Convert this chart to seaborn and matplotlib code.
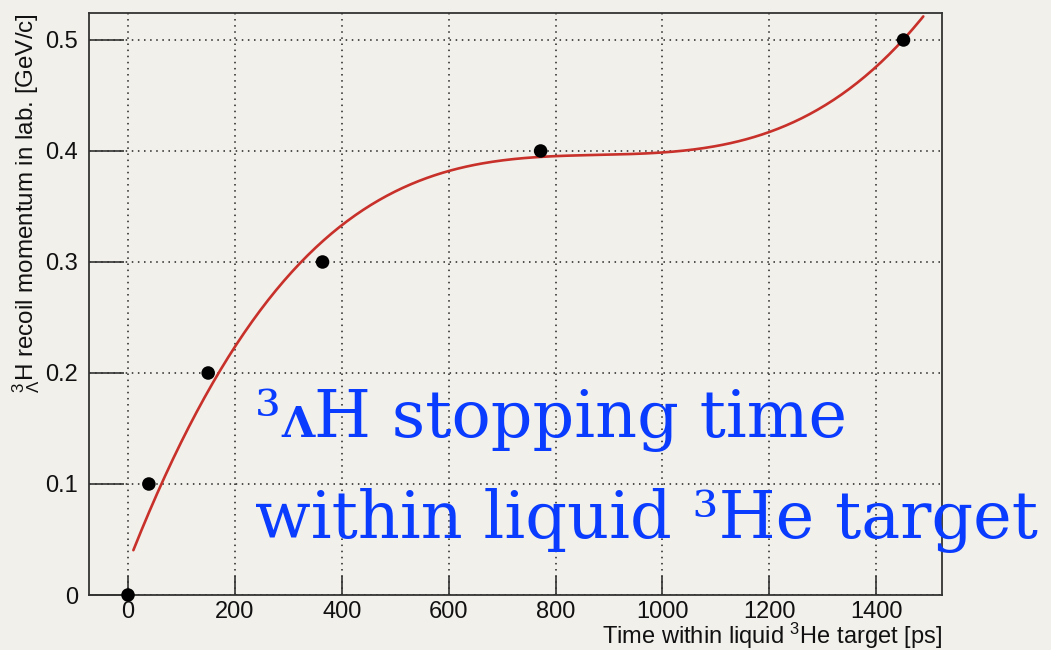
import numpy as np
import pandas as pd
import matplotlib
matplotlib.use("Agg")
import matplotlib.pyplot as plt
from matplotlib.ticker import MultipleLocator
from matplotlib.offsetbox import TextArea, HPacker, AnnotationBbox
import seaborn as sns

# Measured stopping times and corresponding recoil momenta
time_ps = [0, 39, 150, 364, 772, 1451]
momentum_gev = [0.0, 0.1, 0.2, 0.3, 0.4, 0.5]

# Range over which the polynomial fit is drawn
fit_range = [10, 1488]
fit_degree = 3

x_ticks = [0, 200, 400, 600, 800, 1000, 1200, 1400]
y_ticks = [0, 0.1, 0.2, 0.3, 0.4, 0.5]

sns.set_theme(style="white")
plt.rcParams["font.family"] = ["Liberation Sans", "DejaVu Sans"]
plt.rcParams["mathtext.fontset"] = "custom"
plt.rcParams["mathtext.rm"] = "Liberation Sans"
plt.rcParams["mathtext.it"] = "Liberation Sans:italic"
plt.rcParams["mathtext.bf"] = "Liberation Sans:bold"

bg = "#f2f0eb"
fig = plt.figure(figsize=(10.51, 6.50), dpi=100, facecolor=bg)
ax = fig.add_axes([89 / 1051, 1 - 595 / 650, (942 - 89) / 1051, (595 - 13) / 650])
ax.set_facecolor(bg)

pts = pd.DataFrame({"t": time_ps, "p": momentum_gev})
coef = np.polyfit(pts["t"], pts["p"], fit_degree)
t_fit = np.linspace(fit_range[0], fit_range[1], 300)
curve = pd.DataFrame({"t": t_fit, "p": np.polyval(coef, t_fit)})

sns.lineplot(data=curve, x="t", y="p", color="#c8302a", linewidth=1.9, ax=ax, zorder=3)
sns.scatterplot(data=pts, x="t", y="p", color="black", s=95, edgecolor="none",
                ax=ax, zorder=4, clip_on=False)

ax.set_xlim(-73, 1523)
ax.set_ylim(0, 0.5243)
ax.set_xticks(x_ticks)
ax.set_yticks(y_ticks)
ax.set_xticklabels([str(v) for v in x_ticks])
ax.set_yticklabels(["0"] + [f"{v:.1f}" for v in y_ticks[1:]])
ax.xaxis.set_minor_locator(MultipleLocator(50))
ax.yaxis.set_minor_locator(MultipleLocator(0.02))

ax.grid(True, which="major", color="#222222", linestyle=(0, (1, 3)), linewidth=1.1)
for side in ["left", "bottom", "top", "right"]:
    ax.spines[side].set_color("#333333")
    ax.spines[side].set_linewidth(1.3)

ax.tick_params(axis="x", which="major", direction="in", length=14, width=1.2,
               color="#333333", labelsize=17, pad=4, labelcolor="#111111")
ax.tick_params(axis="x", which="minor", direction="in", length=7, width=1.2, color="#333333")
ax.tick_params(axis="y", which="major", direction="in", length=25, width=1.2,
               color="#333333", labelsize=17, pad=8, labelcolor="#111111")
ax.tick_params(axis="y", which="minor", direction="in", length=12, width=1.2, color="#333333")
ax.tick_params(bottom=True, left=True, top=False, right=False)

ax.set_xlabel(r"Time within liquid $^{3}$He target [ps]", fontsize=17, loc="right",
              color="#111111")
ax.xaxis.set_label_coords(1.0, -0.0835)
ax.xaxis.label.set_va("baseline")
ax.set_ylabel(r"$^{3}_{\Lambda}$H recoil momentum in lab. [GeV/c]", fontsize=17.4,
              loc="top", color="#111111")
ax.yaxis.set_label_coords(-0.055, 1.0)

# Blue caption: two lines in a serif face, with a small bold Lambda before the H
blue = "#0a3cff"
serif = ["DejaVu Serif"]
big = dict(family=serif, fontsize=47, color=blue)
line1 = HPacker(children=[
    TextArea("³", textprops=big),
    TextArea("Λ", textprops=dict(family=serif, fontsize=31, color=blue, weight="bold")),
    TextArea("H stopping time", textprops=big),
], align="baseline", pad=0, sep=0)
fig.add_artist(AnnotationBbox(line1, (255, 650 - 438 - 14), xycoords="figure pixels",
                              box_alignment=(0, 0), frameon=False, pad=0))
fig.text(255 / 1051, 1 - 538 / 650, "within liquid ³He target",
         va="baseline", ha="left", **big)

fig.savefig("out.png", dpi=100, facecolor=bg)
